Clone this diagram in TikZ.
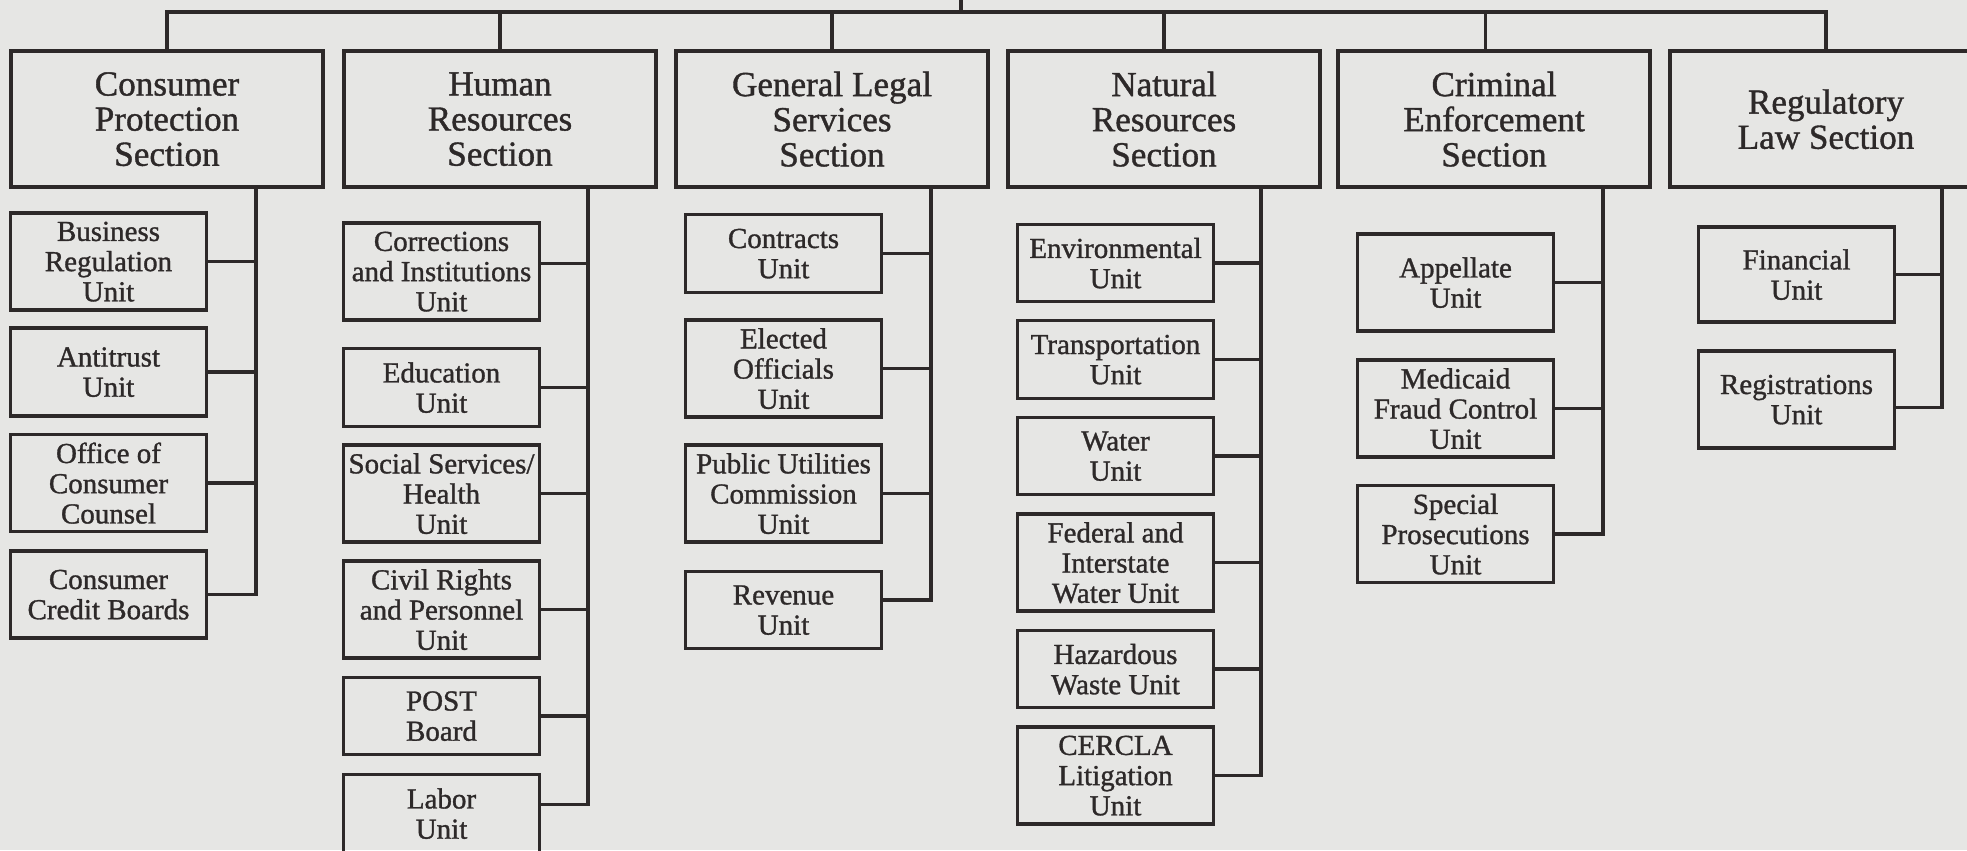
\documentclass[tikz,border=0pt]{standalone}
\usepackage{fontspec}
\setmainfont{Liberation Serif}[BoldFont=Liberation Serif,BoldFeatures={FakeBold=1.1}]

\definecolor{paper}{RGB}{230,230,228}
\definecolor{ink}{RGB}{45,41,41}

\tikzset{
  section/.style={draw=ink,line width=2pt,minimum width=6.24cm,minimum height=2.72cm,inner sep=2pt,text depth=-0.15cm,align=center,text=ink,font=\fontsize{20}{20}\selectfont\bfseries},
  unit/.style={draw=ink,line width=1.8pt,minimum width=3.92cm,inner sep=2pt,text depth=-0.15cm,align=center,text=ink,font=\fontsize{16.5}{17.2}\selectfont\bfseries},
  unitlow/.style={unit,minimum height=1.55cm},
  unithigh/.style={unit,minimum height=1.94cm},
  link/.style={draw=ink,line width=2pt}
}

\begin{document}
\begin{tikzpicture}[x=0.02cm,y=-0.02cm]
	\useasboundingbox (0,0) rectangle (1967,850);
	\fill[paper] (0,0) rectangle (1967,850);
	\clip (0,0) rectangle (1967,850);

	\node[section] (consumer) at (167,119) {Consumer\\Protection\\Section};
	\node[section] (human) at (500,119) {Human\\Resources\\Section};
	\node[section] (general) at (832,119) {General Legal\\Services\\Section};
	\node[section] (natural) at (1164,119) {Natural\\Resources\\Section};
	\node[section] (criminal) at (1494,119) {Criminal\\Enforcement\\Section};
	\node[section] (regulatory) at (1826,119) {Regulatory\\Law Section};

	\node[unithigh] (business) at (108.5,261.5) {Business\\Regulation\\Unit};
	\node[unit,minimum height=1.76cm] (antitrust) at (108.5,372) {Antitrust\\Unit};
	\node[unithigh] (office) at (108.5,483) {Office of\\Consumer\\Counsel};
	\node[unit,minimum height=1.74cm] (credit) at (108.5,594.5) {Consumer\\Credit Boards};

	\node[unithigh] (corrections) at (441.5,271.5) {Corrections\\and Institutions\\Unit};
	\node[unitlow] (education) at (441.5,387.5) {Education\\Unit};
	\node[unithigh] (social) at (441.5,493.5) {Social Services/\\Health\\Unit};
	\node[unithigh] (civil) at (441.5,609.5) {Civil Rights\\and Personnel\\Unit};
	\node[unitlow] (post) at (441.5,716) {POST\\Board};
	\node[unitlow] (labor) at (441.5,813.5) {Labor\\Unit};

	\node[unitlow] (contracts) at (783.5,253.5) {Contracts\\Unit};
	\node[unithigh] (elected) at (783.5,368.5) {Elected\\Officials\\Unit};
	\node[unithigh] (utilities) at (783.5,493.5) {Public Utilities\\Commission\\Unit};
	\node[unitlow] (revenue) at (783.5,610) {Revenue\\Unit};

	\node[unitlow] (environmental) at (1115.5,263) {Environmental\\Unit};
	\node[unitlow] (transportation) at (1115.5,359.5) {Transportation\\Unit};
	\node[unitlow] (water) at (1115.5,456) {Water\\Unit};
	\node[unithigh] (federal) at (1115.5,562.5) {Federal and\\Interstate\\Water Unit};
	\node[unitlow] (hazardous) at (1115.5,669) {Hazardous\\Waste Unit};
	\node[unithigh] (cercla) at (1115.5,775.5) {CERCLA\\Litigation\\Unit};

	\node[unithigh] (appellate) at (1455.5,282.5) {Appellate\\Unit};
	\node[unithigh] (medicaid) at (1455.5,408.5) {Medicaid\\Fraud Control\\Unit};
	\node[unithigh] (special) at (1455.5,534) {Special\\Prosecutions\\Unit};

	\node[unit,minimum height=1.9cm] (financial) at (1796.5,274.5) {Financial\\Unit};
	\node[unithigh] (registrations) at (1796.5,399.5) {Registrations\\Unit};

	\coordinate (top) at (961,0);
	\coordinate (bus) at (961,12);
	\draw[link] (top) -- (bus);
	\draw[link] (bus) -| (consumer.north);
	\draw[link] (bus) -| (human.north);
	\draw[link] (bus) -| (general.north);
	\draw[link] (bus) -| (natural.north);
	\draw[link] (bus) -| ([xshift=-0.17cm]criminal.north);
	\draw[link] (bus) -| (regulatory.north);

	\coordinate (cpspine) at (256,187);
	\draw[link] (cpspine) |- (business.east);
	\draw[link] (cpspine) |- (antitrust.east);
	\draw[link] (cpspine) |- (office.east);
	\draw[link] (cpspine) |- (credit.east);

	\coordinate (hrspine) at (588,187);
	\draw[link] (hrspine) |- ([yshift=0.16cm]corrections.east);
	\draw[link] (hrspine) |- (education.east);
	\draw[link] (hrspine) |- (social.east);
	\draw[link] (hrspine) |- (civil.east);
	\draw[link] (hrspine) |- (post.east);
	\draw[link] (hrspine) |- ([yshift=0.18cm]labor.east);

	\coordinate (glspine) at (931,187);
	\draw[link] (glspine) |- (contracts.east);
	\draw[link] (glspine) |- (elected.east);
	\draw[link] (glspine) |- (utilities.east);
	\draw[link] (glspine) |- ([yshift=0.2cm]revenue.east);

	\coordinate (nrspine) at (1261,187);
	\draw[link] (nrspine) |- (environmental.east);
	\draw[link] (nrspine) |- (transportation.east);
	\draw[link] (nrspine) |- (water.east);
	\draw[link] (nrspine) |- (federal.east);
	\draw[link] (nrspine) |- (hazardous.east);
	\draw[link] (nrspine) |- (cercla.east);

	\coordinate (cespine) at (1603,187);
	\draw[link] (cespine) |- (appellate.east);
	\draw[link] (cespine) |- (medicaid.east);
	\draw[link] (cespine) |- (special.east);

	\coordinate (rlspine) at (1942,187);
	\draw[link] (rlspine) |- (financial.east);
	\draw[link] (rlspine) |- ([yshift=-0.16cm]registrations.east);
\end{tikzpicture}
\end{document}
